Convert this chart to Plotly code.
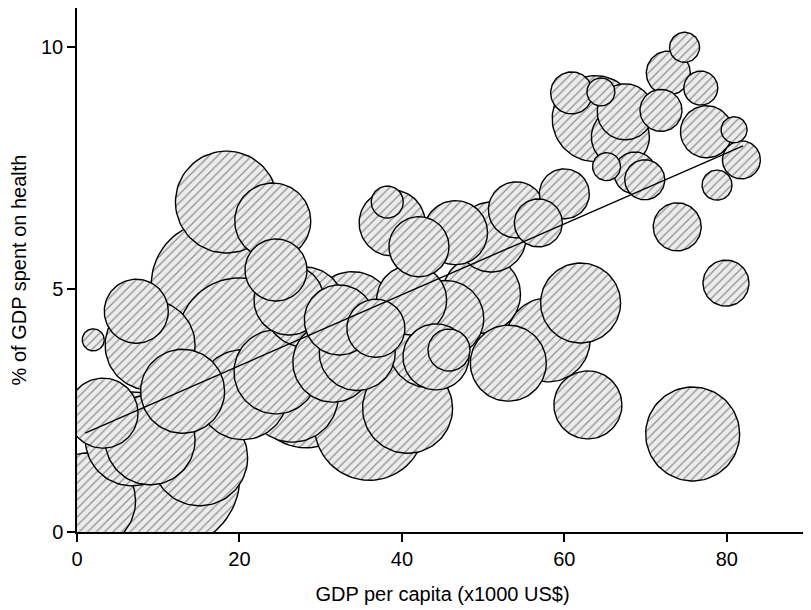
import numpy as np
import plotly.graph_objects as go

# GDP per capita (x1000 US$)
gdp = [74.8, 72.8, 76.8, 71.9, 60.9, 63.8, 64.5, 67.5, 66.9, 65.2,
       68.7, 69.9, 77.5, 80.9, 81.8, 78.8, 73.9, 79.9, 75.8,
       60.0, 56.8, 54.1, 51.0, 46.6, 62.0, 62.9, 58.0, 53.1, 49.8,
       45.8, 44.2, 43.3, 45.4, 42.1, 38.8, 38.2, 41.2, 40.7, 36.0,
       28.2, 26.5, 33.9, 32.3, 36.8, 31.5, 34.5, 24.5, 28.0, 26.1,
       24.1, 24.5, 18.4, 16.9, 20.0, 20.4, 15.1, 11.2, 13.0, 9.0,
       7.3, 2.0, 3.2, 6.8, 9.0, 1.3]
# % of GDP spent on health
health = [9.99, 9.46, 9.15, 8.69, 9.05, 8.52, 9.07, 8.66, 8.14, 7.53,
          7.40, 7.26, 8.25, 8.29, 7.67, 7.15, 6.29, 5.13, 2.02,
          6.97, 6.37, 6.64, 6.08, 6.17, 4.72, 2.62, 3.96, 3.48, 4.90,
          3.75, 3.61, 3.80, 4.40, 5.88, 6.37, 6.80, 4.78, 2.55, 2.20,
          2.87, 2.80, 4.50, 4.37, 4.20, 3.50, 3.70, 3.30, 4.64, 4.78,
          6.41, 5.40, 6.80, 5.10, 3.96, 2.83, 1.53, 1.14, 2.90, 3.85,
          4.55, 3.96, 2.45, 1.92, 1.90, 0.64]
# third variable shown as bubble size
bubble = [15, 22, 17, 21, 21, 43, 14, 28, 29, 14,
          21, 20, 26, 13, 19, 15, 24, 23, 47,
          25, 24, 28, 35, 32, 40, 34, 42, 38, 39,
          21, 33, 40, 38, 30, 33, 16, 35, 45, 55,
          55, 46, 42, 35, 29, 40, 38, 42, 40, 35,
          38, 31, 51, 63, 62, 45, 48, 72, 42, 45,
          32, 11, 35, 47, 45, 48]

# fitted trend
trend_x = [1.0, 82.0]
trend_y = [2.04, 7.96]

# the page body adds an 8px margin, so the figure is a little smaller than the window
W, H = 803, 602
margin = dict(l=69, r=3, t=0, b=78)
x_range = [0, 90]
y_range = [0, 10.8]

# pixels per data unit, so the bubbles come out round
kx = (W - margin['l'] - margin['r']) / (x_range[1] - x_range[0])
ky = (H - margin['t'] - margin['b']) / (y_range[1] - y_range[0])

theta = np.linspace(0, 2 * np.pi, 91)
fig = go.Figure()

# largest bubbles first so smaller ones sit on top
for i in np.argsort(bubble, kind='stable')[::-1]:
    r = bubble[i]
    fig.add_trace(go.Scatter(
        x=gdp[i] + r * np.cos(theta) / kx,
        y=health[i] + r * np.sin(theta) / ky,
        mode='lines',
        fill='toself',
        fillcolor='#ececec',
        fillpattern=dict(shape='/', fgcolor='#2e2e2e', bgcolor='#ececec',
                         size=6, solidity=0.2),
        line=dict(color='black', width=1.4),
        hoverinfo='skip',
        showlegend=False))

fig.add_trace(go.Scatter(
    x=trend_x, y=trend_y, mode='lines',
    line=dict(color='black', width=1.4),
    hoverinfo='skip', showlegend=False))

axis_font = dict(family='Liberation Sans, Arial, sans-serif', size=20, color='black')

fig.update_layout(
    width=W, height=H,
    margin=margin,
    paper_bgcolor='white',
    plot_bgcolor='white',
    font=axis_font,
    xaxis=dict(
        range=x_range,
        tickvals=[0, 20, 40, 60, 80],
        ticks='outside', ticklen=8, tickwidth=1.5, tickcolor='black',
        showline=True, linecolor='black', linewidth=1.5,
        showgrid=False, zeroline=False, automargin=False,
        tickfont=axis_font,
        title=dict(text='GDP per capita (x1000 US$)', font=axis_font, standoff=18),
    ),
    yaxis=dict(
        range=y_range,
        tickvals=[0, 5, 10],
        ticks='outside', ticklen=8, tickwidth=1.5, tickcolor='black',
        showline=True, linecolor='black', linewidth=1.5,
        showgrid=False, zeroline=False, automargin=False,
        tickfont=axis_font,
        title=dict(text='% of GDP spent on health', font=axis_font, standoff=14),
    ),
)

fig.write_html("out.html")
